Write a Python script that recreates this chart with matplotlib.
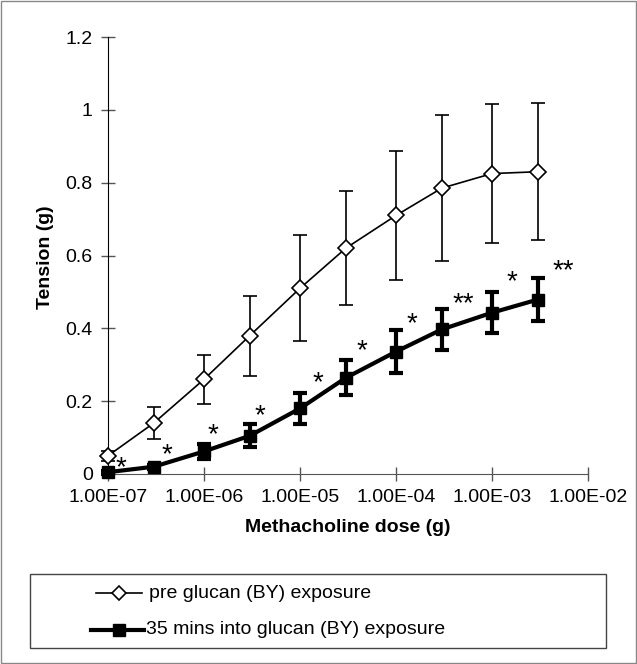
import numpy as np
import matplotlib.pyplot as plt
from matplotlib.patches import Rectangle
from matplotlib.lines import Line2D

plt.rcParams['font.family'] = ['Liberation Sans', 'DejaVu Sans']

# dose (g)
dose = [1e-7, 3e-7, 1e-6, 3e-6, 1e-5, 3e-5, 1e-4, 3e-4, 1e-3, 3e-3]

# tension (g) before glucan exposure
pre_mean = [0.05, 0.14, 0.26, 0.38, 0.51, 0.62, 0.71, 0.785, 0.825, 0.83]
pre_err = [0.013, 0.044, 0.067, 0.11, 0.145, 0.157, 0.178, 0.2, 0.19, 0.188]

# tension (g) 35 mins into exposure
post_mean = [0.005, 0.02, 0.062, 0.105, 0.18, 0.264, 0.336, 0.397, 0.443, 0.479]
post_err = [0.004, 0.005, 0.02, 0.031, 0.043, 0.048, 0.059, 0.057, 0.057, 0.059]

# significance markers
sig = ['*', '*', '*', '*', '*', '*', '*', '**', '*', '**']
sig_dx = [13, 13, 9, 10, 18, 16, 16, 21, 20, 25]
sig_dy = [12, 20, 24, 28, 33, 35, 35, 33, 38, 36]

xticks = [1e-7, 1e-6, 1e-5, 1e-4, 1e-3, 1e-2]
xtick_labels = ['1.00E-07', '1.00E-06', '1.00E-05', '1.00E-04', '1.00E-03', '1.00E-02']
yticks = [0, 0.2, 0.4, 0.6, 0.8, 1.0, 1.2]
ytick_labels = ['0', '0.2', '0.4', '0.6', '0.8', '1', '1.2']

labels = ['pre glucan (BY) exposure', '35 mins into glucan (BY) exposure']

W, H = 637, 664
fig = plt.figure(figsize=(W / 100, H / 100), dpi=100)
ax = fig.add_axes([108 / W, 1 - 474 / H, 480 / W, 437 / H])

pre = ax.errorbar(dose, pre_mean, yerr=pre_err, color='black', lw=1.2,
                  elinewidth=1.2, capsize=5, capthick=1.2,
                  marker='D', markersize=8, markerfacecolor='white',
                  markeredgecolor='black', markeredgewidth=1.2, zorder=3)
post = ax.errorbar(dose, post_mean, yerr=post_err, color='black', lw=3,
                   elinewidth=3, capsize=5, capthick=3,
                   marker='s', markersize=9, markerfacecolor='black',
                   markeredgecolor='black', zorder=4)
for c in (pre, post):
    for a in c.get_children():
        a.set_clip_on(False)

# asterisks next to the post-exposure points
for x, y, s, dx, dy in zip(dose, post_mean, sig, sig_dx, sig_dy):
    ax.annotate(s, (x, y), xytext=(dx, dy - 8), textcoords='offset pixels',
                ha='center', va='center', fontsize=20)

ax.set_xscale('log')
ax.set_xlim(1e-7, 1e-2)
ax.set_ylim(0, 1.2)
ax.set_xticks(xticks)
ax.set_xticklabels(xtick_labels)
ax.xaxis.set_minor_locator(plt.NullLocator())
ax.set_yticks(yticks)
ax.set_yticklabels(ytick_labels)
ax.tick_params(axis='both', direction='inout', length=10, width=1,
               labelsize=14, color='#555555')
ax.tick_params(axis='x', pad=6)
ax.tick_params(axis='y', pad=6)

for s in ['top', 'right']:
    ax.spines[s].set_visible(False)
ax.spines['left'].set_color('black')
ax.spines['bottom'].set_color('#555555')
ax.patch.set_alpha(0)

fig.text(45 / W, 1 - 257 / H, 'Tension (g)', rotation=90, ha='center',
         va='center', fontsize=14, fontweight='bold')
fig.text(348 / W, 1 - 527 / H, 'Methacholine dose (g)', ha='center',
         va='center', fontsize=14, fontweight='bold')

# legend box drawn by hand
fig.patches.append(Rectangle((30 / W, 1 - 648 / H), 576 / W, 74 / H,
                             transform=fig.transFigure, fill=False,
                             edgecolor='#444444', lw=1))
leg_y = [593, 630]
fig.lines.append(Line2D([96 / W, 142 / W], [1 - leg_y[0] / H] * 2,
                        transform=fig.transFigure, color='black', lw=1.2))
fig.lines.append(Line2D([119 / W], [1 - leg_y[0] / H], transform=fig.transFigure,
                        marker='D', markersize=7, markerfacecolor='white',
                        markeredgecolor='black', markeredgewidth=1.2, lw=0))
fig.lines.append(Line2D([91 / W, 144 / W], [1 - leg_y[1] / H] * 2,
                        transform=fig.transFigure, color='black', lw=3))
fig.lines.append(Line2D([119 / W], [1 - leg_y[1] / H], transform=fig.transFigure,
                        marker='s', markersize=9, color='black', lw=0))
fig.text(149 / W, 1 - leg_y[0] / H, labels[0], ha='left', va='center', fontsize=14)
fig.text(146 / W, 1 - leg_y[1] / H, labels[1], ha='left', va='center', fontsize=14)

fig.patches.append(Rectangle((0.002, 0.002), 0.996, 0.996, transform=fig.transFigure,
                             fill=False, edgecolor='#888888', lw=1))

fig.savefig('out.png', dpi=100)
